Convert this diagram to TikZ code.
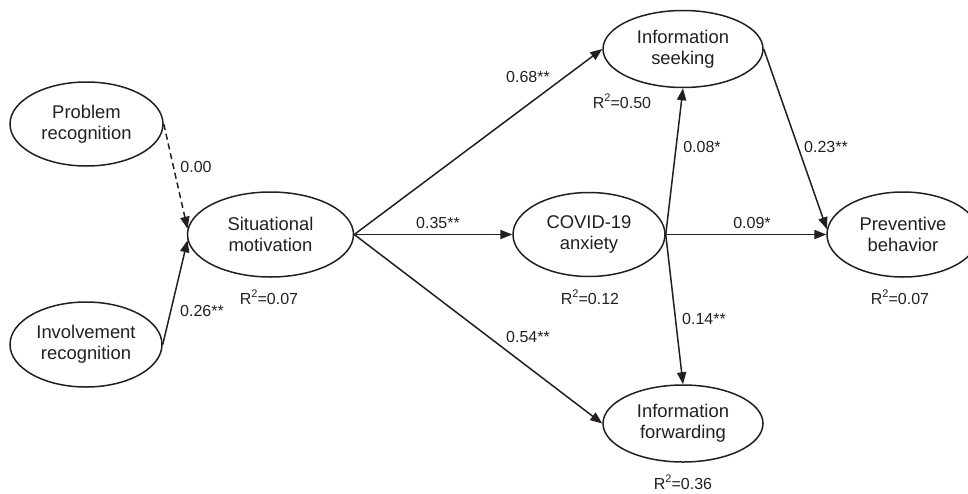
\documentclass[tikz,border=0pt]{standalone}
\usepackage{fontspec}
\setmainfont{Liberation Sans}
\usetikzlibrary{arrows.meta,shapes.geometric}
\definecolor{ink}{RGB}{35,31,32}
\tikzset{
  construct/.style={draw=ink, line width=0.75pt, ellipse, inner sep=0pt, align=center,
    text=ink, font=\fontsize{9.2}{10.5}\selectfont},
  coef/.style={inner sep=0pt, text=ink, font=\fontsize{8}{9.6}\selectfont},
  path/.style={draw=ink, line width=0.75pt, -{Triangle[length=6pt,width=4.6pt]}},
  nspath/.style={path, dash pattern=on 3pt off 2pt},
}
\newcommand{\rsq}[1]{R\raisebox{0.8ex}{\fontsize{5.5}{5.5}\selectfont 2}=#1}
\begin{document}
\begin{tikzpicture}[x=0.5pt,y=-0.5pt]
\clip (0,0) rectangle (968,493);
\useasboundingbox (0,0) rectangle (968,493);
% constructs
\node[construct, minimum width=76.5pt, minimum height=42pt] (prob) at (86.5,124) {Problem\\recognition};
\node[construct, minimum width=76pt, minimum height=42.5pt] (inv) at (86,344.5) {Involvement\\recognition};
\node[construct, minimum width=83pt, minimum height=42.5pt] (sit) at (270.5,234.5) {Situational\\motivation};
\node[construct, minimum width=76pt, minimum height=42pt] (cov) at (589,234.5) {COVID-19\\anxiety};
\node[construct, minimum width=80pt, minimum height=38.5pt] (seek) at (683,49) {Information\\seeking};
\node[construct, minimum width=80pt, minimum height=38.5pt] (fwd) at (683,423.5) {Information\\forwarding};
\node[construct, minimum width=76pt, minimum height=42.5pt] (prev) at (903,234.5) {Preventive\\behavior};
% paths
\draw[nspath] (prob.east) -- (sit.176);
\draw[path] (inv.east) -- (sit.184);
\draw[path] (sit.east) -- (seek.west);
\draw[path] (sit.east) -- (cov.west);
\draw[path] (sit.east) -- (fwd.west);
\draw[path] (cov.east) -- (seek.south);
\draw[path] (cov.east) -- (fwd.north);
\draw[path] (cov.east) -- (prev.west);
\draw[path] (seek.east) -- (prev.176);
% coefficients
\node[coef] (c1) at (196,167) {0.00};
\node[coef] (c2) at (202,311) {0.26**};
\node[coef] (c3) at (528,77) {0.68**};
\node[coef] (c4) at (438,223) {0.35**};
\node[coef] (c5) at (528,337) {0.54**};
\node[coef] (c6) at (702,147) {0.08*};
\node[coef] (c7) at (704,319) {0.14**};
\node[coef] (c8) at (752,223) {0.09*};
\node[coef] (c9) at (826,147) {0.23**};
% R squared
\node[coef] (r1) at (269,297) {\rsq{0.07}};
\node[coef] (r2) at (622,101) {\rsq{0.50}};
\node[coef] (r3) at (590,297) {\rsq{0.12}};
\node[coef] (r4) at (683,482) {\rsq{0.36}};
\node[coef] (r5) at (900,297) {\rsq{0.07}};
\end{tikzpicture}
\end{document}
